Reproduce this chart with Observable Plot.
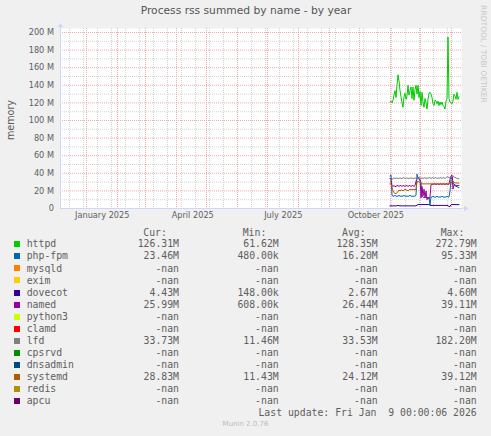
<!DOCTYPE html>
<html><head><meta charset="utf-8">
<script src="https://cdn.jsdelivr.net/npm/d3@7"></script>
<script src="https://cdn.jsdelivr.net/npm/@observablehq/plot@0.6"></script>
<style>
html,body{margin:0;padding:0;background:#F0F0F0;}
#root{position:relative;width:491px;height:436px;overflow:hidden;background:#F0F0F0;font-family:"DejaVu Sans",sans-serif;color:#666;}
#chart{position:absolute;left:0;top:0;}
.abs{position:absolute;white-space:pre;}
.title{left:0;width:492px;top:6px;text-align:center;font-size:10.7px;line-height:10.7px;color:#555;}
.ylab{left:11px;top:120px;font-size:9.6px;line-height:9.6px;transform:translate(-50%,-50%) rotate(-90deg);color:#5a5a5a;}
.wm{left:483px;top:54px;font-size:7.6px;line-height:7.6px;color:#c8c8c8;transform:translate(-50%,-50%) rotate(90deg);}
.mono{font-family:"DejaVu Sans Mono",monospace;font-size:9.8px;line-height:12px;height:12px;color:#5e5e5e;}
.sw{position:absolute;width:6px;height:6px;left:14px;}
.munin{left:0;width:491px;text-align:center;font-size:7px;line-height:8px;color:#bbb;top:420px;}
</style></head>
<body><div id="root">
<div class="abs title">Process rss summed by name - by year</div>
<div class="abs ylab">memory</div>
<div class="abs wm">RRDTOOL / TOBI OETIKER</div>
<div id="chart"></div>
<div id="legend"></div>
<div class="abs munin">Munin 2.0.76</div>
</div>
<script>
// ---- data (values in M bytes), daily from 2025-10-31 ----
const firstDay = Date.UTC(2025, 9, 31, 12);
const httpd = [121,
 122,120,123,129,134,126,140,152,145,134,
 127,120,115,127,131,124,128,140,129,134,
 138,125,138,123,135,140,130,140,126,133,
 117,132,121,115,125,120,113,124,131,132,
 130,126,119,117,123,122,119,122,117,121,
 118,121,117,116,113,122,125,195,125,121,
 120,119,122,130,128,124,132,124,127];
const phpFpm = [37,
 38,15,14,14,15,14,14,14,15,14,
 14,14,14,15,14,14,14,14,14,15,
 14,14,14,14,14,15,39,35,33,32,
 30,14,13,12,13,12,13,12,13,4,
 13,13,14,13,13,13,14,13,13,13,
 13,14,13,13,13,13,14,13,13,20,
 33,36,30,27,26,25,25,24,23.5];
const dovecot = [3,
 3,3,3,3,3,3,3,3.6,3.2,3,
 3,3,3,3,3,3,3,3,3,3,
 3,3,3,3,3,3,3.8,4.5,4.5,4.5,
 4.5,4.5,4.5,4.5,4.5,4.5,4.5,4.5,4.5,3.6,
 3.5,3.5,3.5,3.5,3.5,3.5,3.5,3.5,3.5,3.5,
 3.5,3.5,3.5,3.5,3.5,3.5,3.5,3.3,2.2,2.2,
 4.4,4.4,4.5,4.5,4.5,4.4,4.4,4.4,4.43];
const named = [34,
 34,26,25,26,25,25,26,26,25,26,
 26,25,26,26,25,26,26,25,26,26,
 25,26,26,25,26,31,34,35,35,34,
 12,25,14,22,12,20,10,12,11,13,
 27,28,27,28,28,27,28,28,27,28,
 28,27,28,28,27,28,28,27,28,33,
 37,38,22,27,27,26,26,26,26];
const lfd = [30,
 31,33,34,35,34,34,35,34,34,35,
 34,34,35,35,34,34,35,34,34,35,
 34,35,34,34,35,34,33,35,34,35,
 34,35,34,35,35,34,35,34,35,35,
 34,35,35,34,35,35,34,35,34,35,
 35,34,35,35,34,35,36,36,35,35,
 36,37,37,36,35,35,34,34,33.7];
const systemd = [28,
 28,24,20,18,17,17,18,19,21,20,
 21,21,20,21,22,21,21,20,21,22,
 21,22,21,22,21,22,30,31,30,29,
 29,28,28,28,28,28,28,28,28,28,
 28,28,28,28,28,28,28,28,28,28,
 28,28,28,28,28,28,28,28,28,28,
 28,31,31,30,29,29,29,29,28.8];

// ---- legend ----
const names  = ["httpd","php-fpm","mysqld","exim","dovecot","named","python3","clamd","lfd","cpsrvd","dnsadmin","systemd","redis","apcu"];
const colors = ["#00CC00","#0066B3","#FF8000","#FFCC00","#330099","#990099","#CCFF00","#FF0000","#808080","#008F00","#00487D","#B35A00","#B38F00","#6B006B"];
const curVals = ["126.31M","23.46M","-nan","-nan","4.43M","25.99M","-nan","-nan","33.73M","-nan","-nan","28.83M","-nan","-nan"];
const minVals = ["61.62M","480.00k","-nan","-nan","148.00k","608.00k","-nan","-nan","11.46M","-nan","-nan","11.43M","-nan","-nan"];
const avgVals = ["128.35M","16.20M","-nan","-nan","2.67M","26.44M","-nan","-nan","33.53M","-nan","-nan","24.12M","-nan","-nan"];
const maxVals = ["272.79M","95.33M","-nan","-nan","4.60M","39.11M","-nan","-nan","182.20M","-nan","-nan","39.12M","-nan","-nan"];
const headers = ["Cur:","Min:","Avg:","Max:"];
const lastUpdate = "Last update: Fri Jan  9 00:00:06 2026";

// ---- axes ----
const yTicks = [0,20,40,60,80,100,120,140,160,180,200];
const yTickLabels = ["0","20 M","40 M","60 M","80 M","100 M","120 M","140 M","160 M","180 M","200 M"];
const xTickDates = [new Date(Date.UTC(2025,0,16,18)), new Date(Date.UTC(2025,3,17,6)), new Date(Date.UTC(2025,6,16,18)), new Date(Date.UTC(2025,9,17,6))];
const xTickLabels = ["January 2025","April 2025","July 2025","October 2025"];

const DAY = 864e5;
const xStart = new Date(Date.UTC(2025,0,1) - 26*DAY);
const xEnd = new Date(xStart.getTime() + 401*DAY);
const yMax = 200*180/176;

const monthStarts = [];
for (let m = 0; m <= 12; m++) monthStarts.push(new Date(Date.UTC(2025, m, 1)));
const weekLines = [];
for (let t = Date.UTC(2024,11,15); t < xEnd.getTime(); t += 14*DAY) weekLines.push(new Date(t));
const yMinor = [10,30,50,70,90,110,130,150,170,190];

const drawn = [["httpd", httpd],["php-fpm", phpFpm],["dovecot", dovecot],["named", named],["lfd", lfd],["systemd", systemd]];
const lineMarks = drawn.map(([n, arr]) => Plot.line(
  arr.map((v, i) => ({date: new Date(firstDay + i*DAY), value: v})),
  {x: "date", y: "value", stroke: colors[names.indexOf(n)], strokeWidth: 1}
));

const AX = "#CFD6F8";
const chart = Plot.plot({
  width: 491, height: 230,
  marginLeft: 60, marginRight: 30, marginTop: 28, marginBottom: 22,
  style: {background: "transparent", overflow: "visible", fontFamily: "DejaVu Sans", fontSize: "8.2px", color: "#5e5e5e"},
  x: {type: "utc", domain: [xStart, xEnd], axis: null},
  y: {domain: [0, yMax], axis: null},
  marks: [
    Plot.frame({fill: "#FFFFFF", stroke: null}),
    Plot.ruleY(yMinor, {stroke: "#D4D4D4", strokeDasharray: "1,1"}),
    Plot.ruleX(weekLines, {stroke: "#D4D4D4", strokeDasharray: "1,1"}),
    Plot.ruleY(yTicks.slice(1), {stroke: "#F5A8A8", strokeDasharray: "1,1"}),
    Plot.ruleX(monthStarts, {stroke: "#F5A8A8", strokeDasharray: "1,1"}),
    ...lineMarks,
    Plot.ruleX([xStart], {y1: 0, y2: yMax, stroke: AX}),
    Plot.ruleY([0], {x1: xStart, x2: new Date(xEnd.getTime() + 2*DAY), stroke: AX}),
    Plot.dot([{x: xStart, y: yMax}], {x: "x", y: "y", symbol: "triangle", r: 2, fill: AX, stroke: null, dy: -2.5}),
    Plot.dot([{x: xEnd, y: 0}], {x: "x", y: "y", symbol: "triangle", r: 2, fill: AX, stroke: null, rotate: 90, dx: 4}),
    Plot.axisY(yTicks, {tickFormat: (d, i) => yTickLabels[i], tickSize: 0, tickPadding: 6.5, label: null, anchor: "left", fill: "#5e5e5e"}),
    Plot.axisX(xTickDates, {tickFormat: (d, i) => xTickLabels[i], tickSize: 0, tickPadding: 4, label: null, anchor: "bottom", fill: "#5e5e5e"})
  ]
});
document.getElementById("chart").appendChild(chart);

// legend html
const leg = document.getElementById("legend");
function addText(txt, top, opts) {
  const d = document.createElement("div");
  d.className = "abs mono";
  d.textContent = txt;
  d.style.top = top + "px";
  if (opts.left != null) d.style.left = opts.left + "px";
  if (opts.right != null) d.style.right = (491 - opts.right) + "px";
  leg.appendChild(d);
}
const rowH = 12.05, row0 = 244.3, off = 5.9;
const colEnds = [179, 278.7, 377.7, 476.7];
const headerLefts = [143.3, 242.7, 342, 440.7];
headers.forEach((h, j) => addText(h, 233.3 - off, {left: headerLefts[j]}));
names.forEach((n, k) => {
  const c = row0 + rowH*k;
  const sw = document.createElement("div");
  sw.className = "sw";
  sw.style.top = (c - 3) + "px";
  sw.style.background = colors[k];
  leg.appendChild(sw);
  addText(n, c - off, {left: 26.7});
  [curVals, minVals, avgVals, maxVals].forEach((arr, j) => addText(arr[k], c - off, {right: colEnds[j]}));
});
addText(lastUpdate, 412.7 - off, {right: 476.7});
</script>
</body></html>
